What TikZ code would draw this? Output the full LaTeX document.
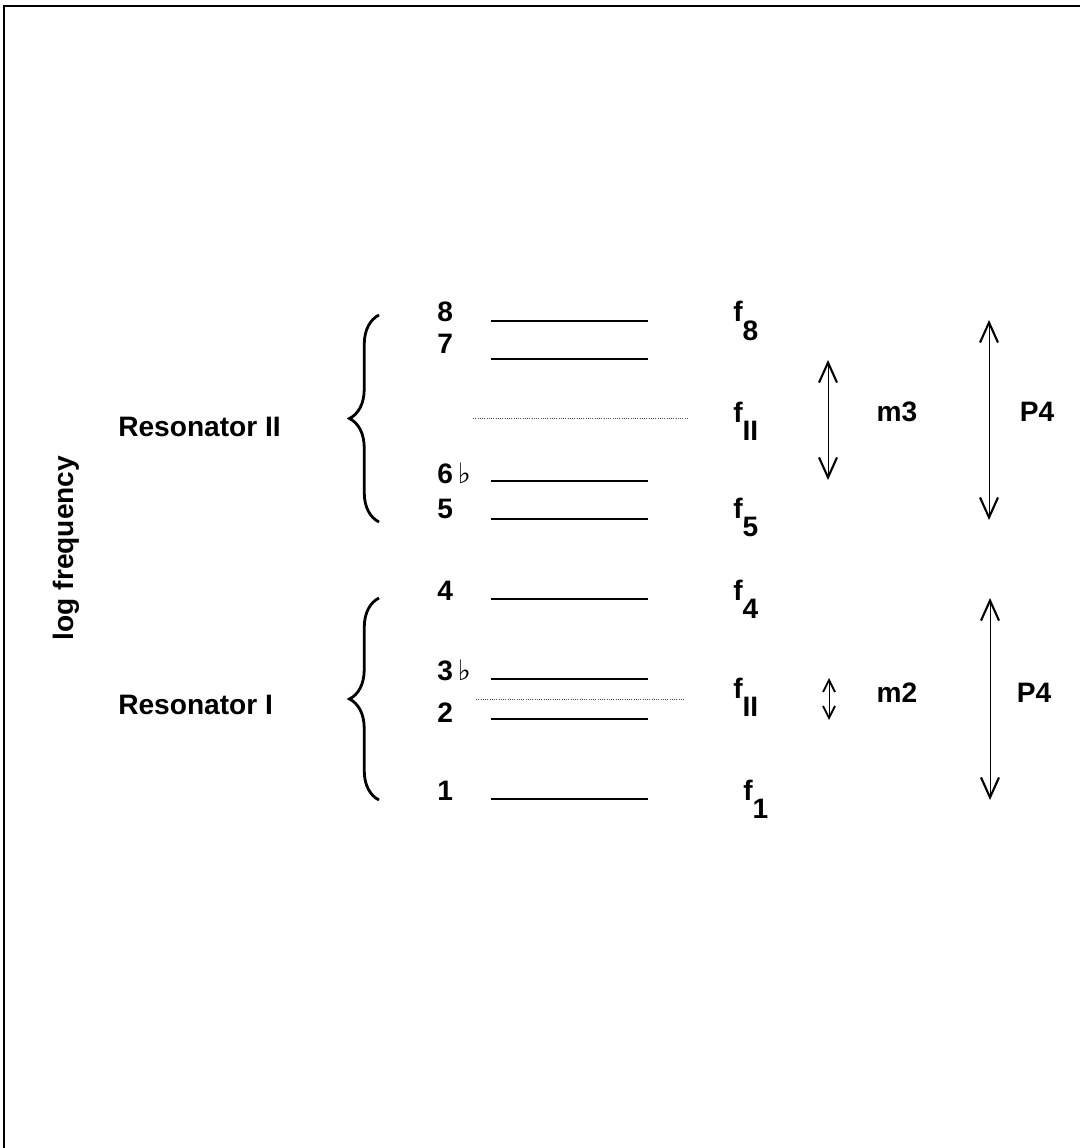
\documentclass[tikz,border=0pt]{standalone}
\usepackage{fontspec}
\setmainfont{Liberation Sans}
\newfontfamily\symfont{DejaVu Sans}
\usepackage{tikz}
\usetikzlibrary{arrows.meta,decorations.pathreplacing}

\newcommand{\freqlab}[1]{f\raisebox{-13pt}{#1}}
\newcommand{\flatsign}{\,{\symfont\bfseries ♭}}

\begin{document}
\begin{tikzpicture}[x=0.025cm,y=-0.025cm,
  font=\fontsize{20}{24}\selectfont\bfseries,
  lvl/.style={line width=1.1pt},
  centreline/.style={densely dotted,line width=0.6pt,black!70},
  resbrace/.style={decorate,decoration={brace,amplitude=21pt},line width=2pt},
  interval/.style={line width=0.5pt,
    {Straight Barb[length=5mm,width=4.5mm,line width=1.5pt]}-{Straight Barb[length=5mm,width=4.5mm,line width=1.5pt]}},
  smallinterval/.style={line width=0.5pt,
    {Straight Barb[length=3mm,width=3mm,line width=1.3pt]}-{Straight Barb[length=3mm,width=3mm,line width=1.3pt]}}]
\useasboundingbox (0,0) rectangle (1080,1148);

% frame
\draw[line width=2pt] (4,1148) -- (4,6) -- (1080,6);

% axis label
\node[rotate=90] (axis) at (66,548) {log frequency};

% levels
\foreach \nm/\lab/\yy/\yb in {l8/8/321/322, l7/7/359/353, l6/6\flatsign/481/483, l5/5/519/518,
    l4/4/599/600, l3/3\flatsign/679/680, l2/2/719/722, l1/1/799/800} {
  \node[anchor=base west,inner sep=0pt] (\nm) at (437,\yb) {\lab};
  \draw[lvl] (491,\yy) -- (648,\yy);
}

% resonator centres
\draw[centreline] (473,418) -- (688,418);
\draw[centreline] (476,699) -- (685,699);

% frequency labels
\node[anchor=base west,inner sep=0pt] (f8) at (733,322) {\freqlab{8}};
\node[anchor=base west,inner sep=0pt] (fII) at (733,422) {\freqlab{II}};
\node[anchor=base west,inner sep=0pt] (f5) at (733,518) {\freqlab{5}};
\node[anchor=base west,inner sep=0pt] (f4) at (733,600) {\freqlab{4}};
\node[anchor=base west,inner sep=0pt] (fI) at (733,698) {\freqlab{II}};
\node[anchor=base west,inner sep=0pt] (f1) at (743,800) {\freqlab{1}};

% Resonator II
\node[anchor=west,inner sep=0pt] (res2) at (118,427) {Resonator II};
\draw[resbrace] (379,522) -- (379,315);

% Resonator I
\node[anchor=west,inner sep=0pt] (res1) at (118,705) {Resonator I};
\draw[resbrace] (379,800) -- (379,598);

% intervals
\coordinate (m3top) at (828,360);
\coordinate (m3bot) at (828,480);
\coordinate (p4top) at (989,320);
\coordinate (p4bot) at (989,520);
\coordinate (m2top) at (829,678);
\coordinate (m2bot) at (829,720);
\coordinate (p4ltop) at (990,598);
\coordinate (p4lbot) at (990,800);
\draw[interval] (m3top) -- (m3bot);
\draw[interval] (p4top) -- (p4bot);
\draw[smallinterval] (m2top) -- (m2bot);
\draw[interval] (p4ltop) -- (p4lbot);
\node (m3) at (897,412) {m3};
\node (p4) at (1037,412) {P4};
\node (m2) at (897,693) {m2};
\node (p4l) at (1034,693) {P4};
\end{tikzpicture}
\end{document}
